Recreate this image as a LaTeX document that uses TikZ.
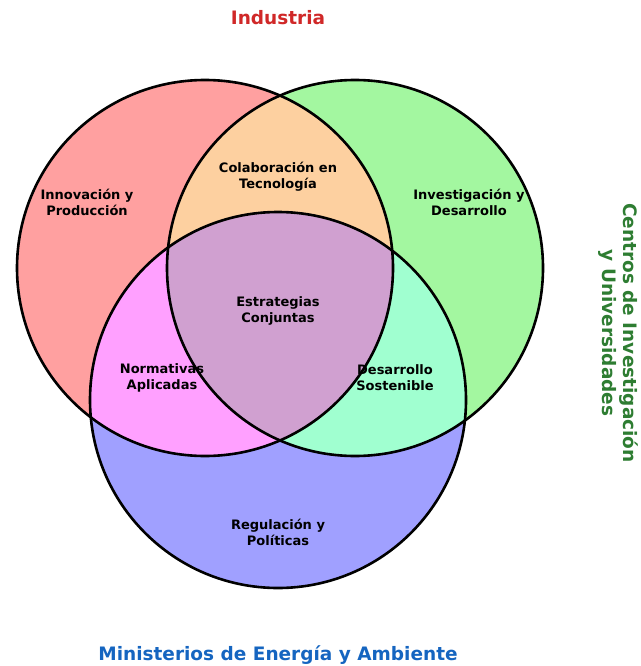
\documentclass[tikz,border=0pt]{standalone}
\usepackage{fontspec}
\setmainfont{DejaVu Sans}
\definecolor{cR}{RGB}{255,160,160}
\definecolor{cG}{RGB}{163,247,160}
\definecolor{cB}{RGB}{160,160,255}
\definecolor{cRG}{RGB}{253,208,160}
\definecolor{cRB}{RGB}{255,160,255}
\definecolor{cGB}{RGB}{160,255,208}
\definecolor{cRGB}{RGB}{208,160,208}
\definecolor{tR}{RGB}{208,40,40}
\definecolor{tG}{RGB}{46,125,50}
\definecolor{tB}{RGB}{21,101,192}
\tikzset{
  lbl/.style={font=\bfseries\fontsize{13}{16}\selectfont, align=center, text=black},
  ttl/.style={font=\bfseries\fontsize{18.5}{21}\selectfont, align=center},
  ring/.style={draw=black, line width=2.6pt}
}
\begin{document}
\begin{tikzpicture}[x=1pt,y=-1pt]
\useasboundingbox (0,0) rectangle (640,666);
\def\R{188}
\coordinate (cr) at (205,268);
\coordinate (cg) at (355,268);
\coordinate (cb) at (278,400);
% base fills
\fill[cR] (cr) circle (\R);
\fill[cG] (cg) circle (\R);
\fill[cB] (cb) circle (\R);
% pairwise overlaps
\begin{scope}\clip (cr) circle (\R); \fill[cRG] (cg) circle (\R); \end{scope}
\begin{scope}\clip (cr) circle (\R); \fill[cRB] (cb) circle (\R); \end{scope}
\begin{scope}\clip (cg) circle (\R); \fill[cGB] (cb) circle (\R); \end{scope}
\begin{scope}\clip (cr) circle (\R); \clip (cg) circle (\R); \fill[cRGB] (cb) circle (\R); \end{scope}
% outlines
\draw[ring] (cr) circle (\R);
\draw[ring] (cg) circle (\R);
\draw[ring] (cb) circle (\R);
% labels
\node[lbl] (a) at (87,202) {Innovación y\\Producción};
\node[lbl] (b) at (278,177) {Colaboración en\\Tecnología};
\node[lbl] (c) at (469,202) {Investigación y\\Desarrollo};
\node[lbl] (d) at (278,311) {Estrategias\\Conjuntas};
\node[lbl] (e) at (162,378) {Normativas\\Aplicadas};
\node[lbl] (f) at (395,378) {Desarrollo\\Sostenible};
\node[lbl] (g) at (278,532) {Regulación y\\Políticas};
% titles
\node[ttl, text=tR] (t1) at (278,18) {Industria};
\node[ttl, text=tB] (t2) at (278,655) {Ministerios de Energía y Ambiente};
\node[ttl, text=tG, rotate=-90] (t3) at (618,333) {Centros de Investigación\\y Universidades};
\end{tikzpicture}
\end{document}
